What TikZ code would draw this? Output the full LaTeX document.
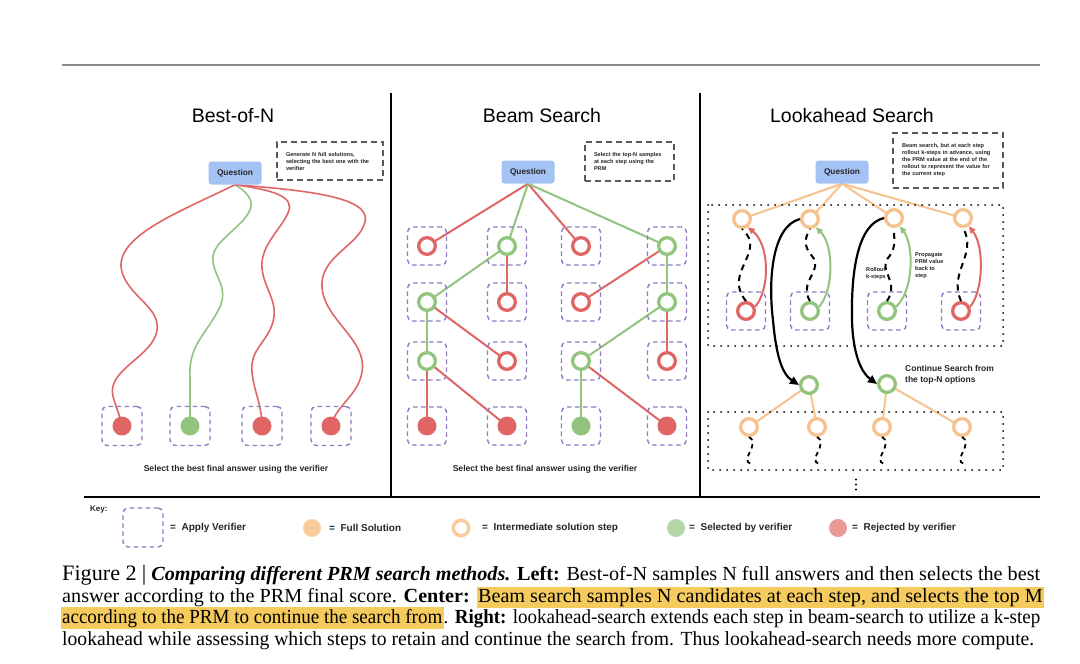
\documentclass[tikz,border=0pt]{standalone}
\usepackage{fontspec}
\usepackage{graphicx}
\setmainfont{Liberation Serif}
\setsansfont{Liberation Sans}
\usetikzlibrary{arrows.meta,backgrounds}
\definecolor{qblue}{HTML}{A4C2F4}
\definecolor{cred}{HTML}{E06666}
\definecolor{cgreen}{HTML}{93C47D}
\definecolor{vpurple}{HTML}{8E7CC3}
\definecolor{corange}{HTML}{F6C28E}
\definecolor{notegray}{HTML}{595959}
\definecolor{kor}{HTML}{F9CB9C}
\definecolor{kgr}{HTML}{B6D7A8}
\definecolor{kre}{HTML}{EA9999}
\definecolor{hl}{HTML}{F6CB5E}
\newcommand{\fsz}[2]{\fontsize{#1}{#2}\selectfont}
\newcommand{\hlt}[1]{{\setlength{\fboxsep}{1.5pt}\colorbox{hl}{\rule[-3.5pt]{0pt}{17pt}#1}}}
\begin{document}
\begin{tikzpicture}[x=1pt,y=-1pt,
  ttl/.style={font=\sffamily\fsz{19.5}{23}, inner sep=0},
  qbox/.style={fill=qblue, rounded corners=3pt, minimum width=53, minimum height=23, inner sep=0, font=\sffamily\bfseries\fsz{8.3}{10}, text=black!85},
  notebox/.style={draw=notegray, line width=1.8, dash pattern=on 6pt off 4pt, align=left, inner xsep=9, inner ysep=0, font=\sffamily\bfseries\fsz{5.6}{7}, text=black!85},
  vbox/.style={draw=vpurple, line width=1.4, dash pattern=on 4.5pt off 3.5pt, rounded corners=5, minimum width=39, minimum height=38, inner sep=0},
  ring/.style={circle, draw=#1, line width=3.3, fill=white, minimum size=16.7, inner sep=0},
  fdot/.style={circle, fill=#1, minimum size=19, inner sep=0},
  sbold/.style={font=\sffamily\bfseries\fsz{8.6}{10}, inner sep=0, text=black!85},
  tinylbl/.style={font=\sffamily\bfseries\fsz{5.6}{7}, align=left, inner sep=0, anchor=west, text=black!85},
  keytxt/.style={font=\sffamily\bfseries\fsz{10}{12}, inner sep=0, anchor=west, text=black!85},
  cedge/.style={line width=2},
  wavy/.style={line width=1.6},
  rollline/.style={black, line width=2, dash pattern=on 6pt off 5pt},
  backarrow/.style={line width=2, -{Triangle[length=7pt,width=6pt]}},
  jumparrow/.style={black, line width=2.2, -{Triangle[length=9pt,width=8pt]}},
  dottedbox/.style={line width=2, dash pattern=on 0pt off 7pt, line cap=round},
  captxt/.style={inner sep=0, font=\fsz{20}{22}, anchor=base west}
]
\useasboundingbox (0,0) rectangle (1080,664);
\begin{scope}[on background layer]
\fill[white] (0,0) rectangle (1080,664);
\end{scope}

% frame lines
\draw[black!45, line width=1.3] (62,65) -- (1040,65);
\draw[line width=2.2] (391,93) -- (391,497);
\draw[line width=2.2] (700,93) -- (700,497);
\draw[line width=2.4] (84,497) -- (1040,497);

% titles
\node[ttl] (t1) at (233,116) {Best-of-N};
\node[ttl] (t2) at (542,116) {Beam Search};
\node[ttl] (t3) at (852,116) {Lookahead Search};

%================ Best-of-N
\node[qbox] (q1) at (235,173) {Question};
\node[notebox, minimum width=106, minimum height=38, text width=88] (n1) at (330,161)
  {Generate N full solutions,\\selecting the best one with the\\verifier};
\foreach \i/\x/\c in {1/122/cred,2/190/cgreen,3/262/cred,4/331/cred}{
  \node[vbox, minimum width=40, minimum height=39] (bb\i) at (\x,426) {};
  \node[fdot=\c] (bl\i) at (\x,426) {};
}
\node[sbold] (s1) at (236,469) {Select the best final answer using the verifier};
\begin{scope}[on background layer]
\draw[cred, wavy] (q1.south) .. controls (180,212) and (108,238) .. (123,275)
  .. controls (132,298) and (160,308) .. (157,330)
  .. controls (154,356) and (106,370) .. (113,396)
  .. controls (116,408) and (120,415) .. (bl1.center);
\draw[cgreen, wavy] (q1.south) .. controls (252,195) and (256,205) .. (245,218)
  .. controls (232,234) and (210,245) .. (213,262)
  .. controls (216,280) and (228,287) .. (220,307)
  .. controls (206,335) and (188,345) .. (190,378) -- (bl2.center);
\draw[cred, wavy] (q1.south) .. controls (272,190) and (296,196) .. (288,213)
  .. controls (281,229) and (260,246) .. (262,268)
  .. controls (264,290) and (280,302) .. (272,325)
  .. controls (265,344) and (250,350) .. (252,372)
  .. controls (254,392) and (262,405) .. (bl3.center);
\draw[cred, wavy] (q1.south) .. controls (300,190) and (372,196) .. (365,222)
  .. controls (359,246) and (320,256) .. (322,287)
  .. controls (324,320) and (368,340) .. (362,372)
  .. controls (358,396) and (336,405) .. (bl4.center);
\end{scope}

%================ Beam Search
\node[qbox] (q2) at (528,172) {Question};
\node[notebox, minimum width=89, minimum height=39, text width=71] (n2) at (629.5,161.5)
  {Select the top-N samples\\at each step using the\\PRM};
\foreach \r/\y in {1/246,2/302,3/361,4/426}{
  \foreach \c/\x in {1/427,2/507,3/581,4/667}{
    \node[vbox] (cb\r\c) at (\x,\y) {};
  }
}
\node[ring=cred]   (c11) at (427,246) {};
\node[ring=cgreen] (c12) at (507,246) {};
\node[ring=cred]   (c13) at (581,246) {};
\node[ring=cgreen] (c14) at (667,246) {};
\node[ring=cgreen] (c21) at (427,302) {};
\node[ring=cred]   (c22) at (507,302) {};
\node[ring=cred]   (c23) at (581,302) {};
\node[ring=cgreen] (c24) at (667,302) {};
\node[ring=cgreen] (c31) at (427,361) {};
\node[ring=cred]   (c32) at (507,361) {};
\node[ring=cgreen] (c33) at (581,361) {};
\node[ring=cred]   (c34) at (667,361) {};
\node[fdot=cred]    (c41) at (427,426) {};
\node[fdot=cred]    (c42) at (507,426) {};
\node[fdot=cgreen]  (c43) at (581,426) {};
\node[fdot=cred]    (c44) at (667,426) {};
\node[sbold] (s2) at (545,469) {Select the best final answer using the verifier};
\begin{scope}[on background layer]
\draw[cedge, cred]   (q2.south) -- (c11.center);
\draw[cedge, cgreen] (q2.south) -- (c12.center);
\draw[cedge, cred]   (q2.south) -- (c13.center);
\draw[cedge, cgreen] (q2.south) -- (c14.center);
\draw[cedge, cgreen] (c12.center) -- (c21.center);
\draw[cedge, cred]   (c12.center) -- (c22.center);
\draw[cedge, cred]   (c14.center) -- (c23.center);
\draw[cedge, cgreen] (c14.center) -- (c24.center);
\draw[cedge, cgreen] (c21.center) -- (c31.center);
\draw[cedge, cred]   (c21.center) -- (c32.center);
\draw[cedge, cgreen] (c24.center) -- (c33.center);
\draw[cedge, cred]   (c24.center) -- (c34.center);
\draw[cedge, cred]   (c31.center) -- (c41.center);
\draw[cedge, cred]   (c31.center) -- (c42.center);
\draw[cedge, cgreen] (c33.center) -- (c43.center);
\draw[cedge, cred]   (c33.center) -- (c44.center);
\end{scope}

%================ Lookahead Search
\node[qbox] (q3) at (842,172) {Question};
\node[notebox, minimum width=110, minimum height=55, text width=92] (n3) at (948,160.5)
  {Beam search, but at each step\\rollout k-steps in advance, using\\the PRM value at the end of the\\rollout to represent the value for\\the current step};
\draw[dottedbox] (708,205) rectangle (1003,346);
\draw[dottedbox] (708,412) rectangle (1003,470);
\node[ring=corange] (o1) at (742,219) {};
\node[ring=corange] (o2) at (810,219) {};
\node[ring=corange] (o3) at (894,218) {};
\node[ring=corange] (o4) at (963,218) {};
\foreach \i/\x in {1/746,2/810,3/887,4/961}{
  \node[vbox] (rb\i) at (\x,311) {};
}
\node[ring=cred]   (r1) at (746,311) {};
\node[ring=cgreen] (r2) at (810,311) {};
\node[ring=cgreen] (r3) at (887,311) {};
\node[ring=cred]   (r4) at (961,311) {};
\node[ring=cgreen] (g1) at (809,385) {};
\node[ring=cgreen] (g2) at (887,384) {};
\node[ring=corange] (p1) at (749,427) {};
\node[ring=corange] (p2) at (817,427) {};
\node[ring=corange] (p3) at (882,427) {};
\node[ring=corange] (p4) at (962,427) {};
\foreach \yy in {479.5,484.5,489.5}{ \fill (856,\yy) circle (1.2); }
\node[tinylbl] (lr) at (866,273.5) {Rollout\\k-steps};
\node[tinylbl] (lp) at (915,265.5) {Propagate\\PRM value\\back to\\step};
\node[font=\sffamily\bfseries\fsz{8.5}{11}, align=left, inner sep=0, anchor=west, text=black!85] (lc) at (905,374.5)
  {Continue Search from\\the top-N options};
\begin{scope}[on background layer]
\foreach \i in {1,2,3,4}{
  \draw[cedge, corange] (q3.south) -- (o\i.center);
}
\draw[cedge, corange] (g1.center) -- (p1.center);
\draw[cedge, corange] (g1.center) -- (p2.center);
\draw[cedge, corange] (g2.center) -- (p3.center);
\draw[cedge, corange] (g2.center) -- (p4.center);
\end{scope}
\draw[rollline] (r1.north) .. controls (722,272) and (768,252) .. (o1.south);
\draw[rollline] (r2.north) .. controls (798,282) and (824,270) .. (812,256)
  .. controls (802,245) and (806,236) .. (o2.south);
\draw[rollline] (r3.north) .. controls (900,282) and (878,270) .. (888,258)
  .. controls (898,246) and (893,236) .. (o3.south);
\draw[rollline] (r4.north) .. controls (948,272) and (978,254) .. (o4.south);
\draw[backarrow, cred]   (r1.25) .. controls (770,290) and (770,245) .. (o1.-55);
\draw[backarrow, cgreen] (r2.25) .. controls (834,290) and (834,245) .. (o2.-55);
\draw[backarrow, cgreen] (r3.25) .. controls (914,290) and (914,245) .. (o3.-55);
\draw[backarrow, cred]   (r4.25) .. controls (984,290) and (984,245) .. (o4.-55);
\draw[jumparrow] (o2.west) .. controls (772,226) and (768,280) .. (773,320)
  .. controls (776,355) and (782,374) .. (g1.west);
\draw[jumparrow] (o3.west) .. controls (858,224) and (851,270) .. (852,320)
  .. controls (853,356) and (862,373) .. (g2.west);
\foreach \i in {1,2,3,4}{
  \draw[rollline, line width=1.8, dash pattern=on 4.5pt off 4pt] (p\i.south) .. controls +(12,7) and +(-12,-4) .. +(2,27);
}

%================ Key
\node[font=\sffamily\bfseries\fsz{8}{10}, inner sep=0, anchor=west, text=black!85] (key) at (90,510) {Key:};
\node[vbox, minimum width=40, minimum height=39] (kb) at (143,527.5) {};
\node[keytxt] (kt1) at (170,528) {=\ \ Apply Verifier};
\node[fdot=kor, minimum size=18] (kc1) at (312,528) {};
\node[keytxt] (kt2) at (329,528) {=\ \ Full Solution};
\node[ring=kor, minimum size=15.5] (kc2) at (461,528) {};
\node[keytxt] (kt3) at (482,528) {=\ \ Intermediate solution step};
\node[fdot=kgr, minimum size=18] (kc3) at (676,528) {};
\node[keytxt] (kt4) at (689,528) {=\ \ Selected by verifier};
\node[fdot=kre, minimum size=18] (kc4) at (838,528) {};
\node[keytxt] (kt5) at (852,528) {=\ \ Rejected by verifier};

%================ Caption
\node[captxt] (cap1) at (62,580) {\resizebox{978pt}{\height}{{\fsz{22}{22}Figure 2} {\fsz{22}{22}\textbar} \textbf{\textit{Comparing different PRM search methods.}} \textbf{Left:} Best-of-N samples N full answers and then selects the best}};
\node[captxt] (cap2) at (62,602) {\resizebox{982pt}{\height}{answer according to the PRM final score. \textbf{Center:} \hlt{Beam search samples N candidates at each step, and selects the top M}}};
\node[captxt] (cap3) at (60.5,623) {\resizebox{979.5pt}{\height}{\hlt{according to the PRM to continue the search from}. \textbf{Right:} lookahead-search extends each step in beam-search to utilize a k-step}};
\node[captxt] (cap4) at (62,645) {\resizebox{972pt}{\height}{lookahead while assessing which steps to retain and continue the search from. Thus lookahead-search needs more compute.}};
\end{tikzpicture}
\end{document}
